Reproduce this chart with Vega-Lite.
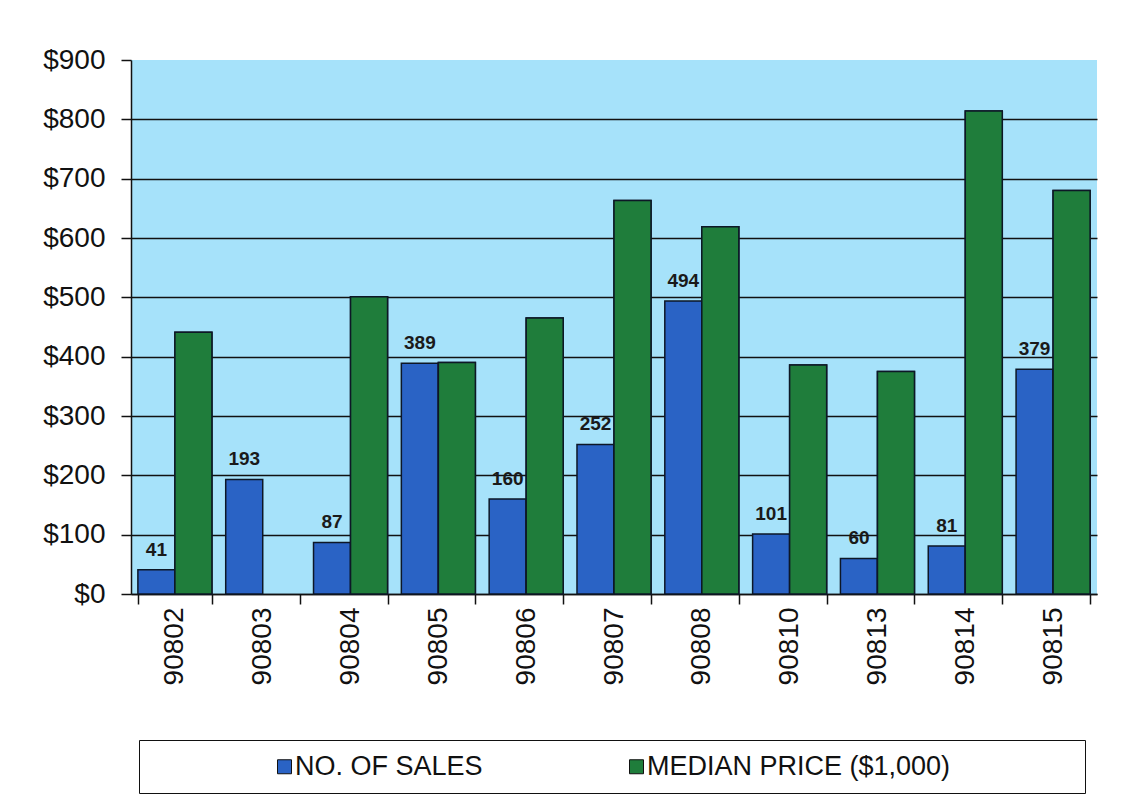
{
  "$schema": "https://vega.github.io/schema/vega-lite/v6.json",
  "autosize": "none",
  "width": 966,
  "height": 534,
  "padding": {"left": 131, "top": 60, "right": 26, "bottom": 213},
  "background": "#ffffff",
  "config": {
    "font": "Liberation Sans",
    "view": {"fill": "#a6e2fa", "stroke": null},
    "axis": {"domainColor": "#111111", "domainWidth": 1.5, "tickColor": "#111111", "tickWidth": 1.5, "labelColor": "#111111", "titleColor": "#111111"}
  },
  "data": {
    "values": [
      {"zip": "90802", "series": "NO. OF SALES", "value": 41},
      {"zip": "90802", "series": "MEDIAN PRICE ($1,000)", "value": 441},
      {"zip": "90803", "series": "NO. OF SALES", "value": 193},
      {"zip": "90804", "series": "NO. OF SALES", "value": 87},
      {"zip": "90804", "series": "MEDIAN PRICE ($1,000)", "value": 501},
      {"zip": "90805", "series": "NO. OF SALES", "value": 389},
      {"zip": "90805", "series": "MEDIAN PRICE ($1,000)", "value": 390},
      {"zip": "90806", "series": "NO. OF SALES", "value": 160},
      {"zip": "90806", "series": "MEDIAN PRICE ($1,000)", "value": 465},
      {"zip": "90807", "series": "NO. OF SALES", "value": 252},
      {"zip": "90807", "series": "MEDIAN PRICE ($1,000)", "value": 663},
      {"zip": "90808", "series": "NO. OF SALES", "value": 494},
      {"zip": "90808", "series": "MEDIAN PRICE ($1,000)", "value": 619},
      {"zip": "90810", "series": "NO. OF SALES", "value": 101},
      {"zip": "90810", "series": "MEDIAN PRICE ($1,000)", "value": 386},
      {"zip": "90813", "series": "NO. OF SALES", "value": 60},
      {"zip": "90813", "series": "MEDIAN PRICE ($1,000)", "value": 375},
      {"zip": "90814", "series": "NO. OF SALES", "value": 81},
      {"zip": "90814", "series": "MEDIAN PRICE ($1,000)", "value": 814},
      {"zip": "90815", "series": "NO. OF SALES", "value": 379},
      {"zip": "90815", "series": "MEDIAN PRICE ($1,000)", "value": 680}
    ]
  },
  "encoding": {
    "x": {
      "field": "zip", "type": "nominal", "sort": null,
      "scale": {"paddingInner": 0.157, "paddingOuter": 0.0785},
      "axis": {"title": null, "labelAngle": -90, "labelFontSize": 28, "labelPadding": 3, "tickSize": 10, "tickBand": "extent", "grid": false, "labelFont": "Liberation Sans"}
    },
    "xOffset": {"field": "series", "type": "nominal", "scale": {"domain": ["NO. OF SALES", "MEDIAN PRICE ($1,000)"], "paddingInner": 0, "paddingOuter": 0}},
    "y": {
      "field": "value", "type": "quantitative",
      "scale": {"domain": [0, 900], "nice": false},
      "axis": {"title": null, "values": [0, 100, 200, 300, 400, 500, 600, 700, 800, 900], "format": "$,.0f", "labelFontSize": 28, "labelPadding": 16, "tickSize": 10, "grid": true, "gridColor": {"condition": {"test": "datum.value >= 900", "value": "transparent"}, "value": "#111111"}, "gridWidth": 1.5, "gridOpacity": 1, "labelFont": "Liberation Sans"}
    }
  },
  "layer": [
    {
      "mark": {"type": "bar", "stroke": "#0d1726", "strokeWidth": 1.5},
      "encoding": {
        "color": {
          "field": "series", "type": "nominal",
          "scale": {"domain": ["NO. OF SALES", "MEDIAN PRICE ($1,000)"], "range": ["#2a63c5", "#1f7d3b"]},
          "legend": {
            "orient": "none", "legendX": 140, "legendY": 693, "direction": "horizontal",
            "title": null, "padding": 0,
            "symbolType": "square", "symbolSize": 196, "symbolStrokeColor": "#111111", "symbolStrokeWidth": 1,
            "labelFontSize": 27, "labelFont": "Liberation Sans", "labelColor": "#111111", "labelOffset": -3, "labelLimit": 1000,
            "columnPadding": 140
          }
        }
      }
    },
    {
      "transform": [{"filter": "datum.series == 'NO. OF SALES'"}],
      "mark": {"type": "text", "baseline": "alphabetic", "align": "center", "dy": -14, "fontSize": 19, "fontWeight": "bold", "font": "Liberation Sans", "color": "#1a1a1a", "strokeWidth": 0},
      "encoding": {
        "text": {"field": "value", "type": "quantitative"},
        "stroke": {
          "field": "value", "type": "quantitative",
          "scale": {"range": ["transparent", "transparent"]},
          "legend": {
            "orient": "none", "legendX": 8, "legendY": 680, "direction": "horizontal",
            "title": null, "padding": 13,
            "labelExpr": "''", "labelFontSize": 0.1, "labelOpacity": 0, "labelOffset": 0,
            "gradientLength": 920, "gradientThickness": 26,
            "gradientStrokeColor": "transparent", "gradientStrokeWidth": 0,
            "strokeColor": "#111111"
          }
        }
      }
    },
    {
      "transform": [{"filter": "datum.series == 'MEDIAN PRICE ($1,000)'"}],
      "mark": {"type": "bar", "stroke": "#0d1726", "strokeWidth": 1.5, "color": "#1f7d3b"},
      "encoding": {}
    }
  ]
}
